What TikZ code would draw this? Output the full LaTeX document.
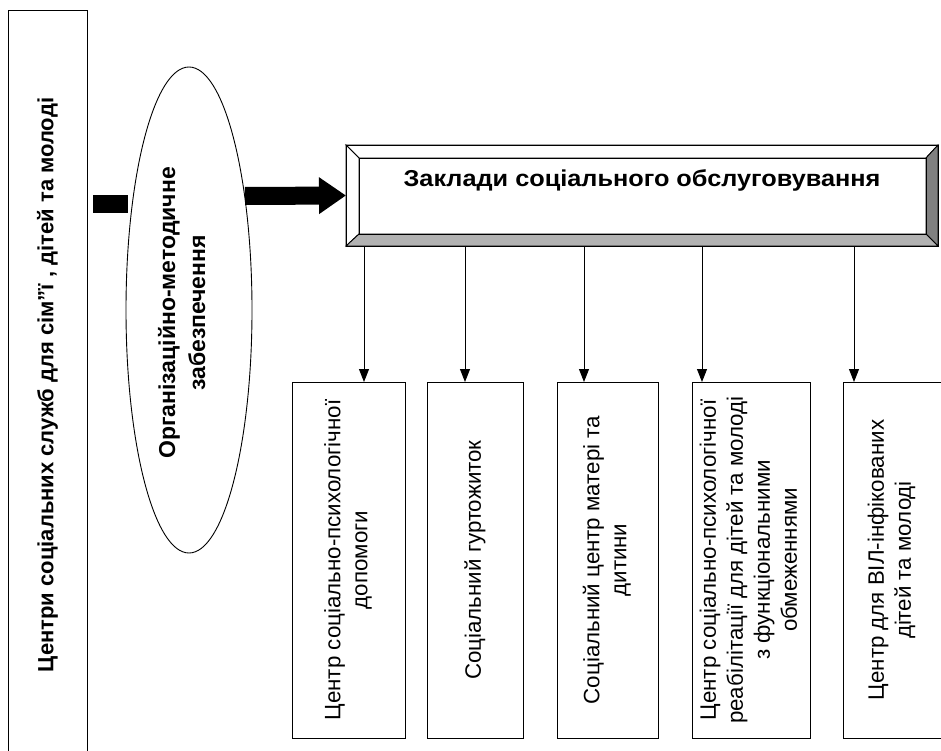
\documentclass[tikz,border=0pt]{standalone}
\usepackage{fontspec}
\usepackage{graphicx}
\setmainfont{Liberation Sans}
\usetikzlibrary{shapes.geometric,arrows.meta}
\begin{document}
\begin{tikzpicture}[x=1pt,y=-1pt]
\tikzset{
  ln/.style={line width=0.9pt,draw=black},
  box/.style={ln,rectangle,inner sep=0pt,outer sep=0pt},
  conn/.style={line width=0.9pt,-{Triangle[length=13pt,width=10pt]}},
  smalltxt/.style={font=\fontsize{22.3}{27}\selectfont},
  bevlight/.style={fill=white,draw=black,line width=0.9pt,line join=miter},
  bevdark/.style={fill=black!50,draw=black,line width=0.9pt},
  bevmid/.style={fill=black!30,draw=black,line width=0.9pt},
}
\useasboundingbox (0,0) rectangle (941,751);
\fill[white] (0,0) rectangle (941,751);

% left box
\node[box,minimum width=79pt,minimum height=750pt,
      font=\bfseries\fontsize{22}{26}\selectfont] (left) at (47.5,385)
  {\rotatebox{90}{Центри соціальних служб для сім”ї , дітей та молоді}};

% black bar
\node[rectangle,fill=black,inner sep=0pt,minimum width=35pt,minimum height=18pt] (bar) at (110.5,204) {};

% ellipse
\node[ellipse,ln,inner sep=0pt,minimum width=126pt,minimum height=486pt] (ell) at (189,310) {};
\node[font=\bfseries\fontsize{23}{30}\selectfont,inner sep=0pt] (elltxt) at (184,313)
  {\rotatebox{90}{\begin{tabular}{@{}c@{}}Організаційно-методичне\\забезпечення\end{tabular}}};

% main bevelled box
\node[box,minimum width=592pt,minimum height=101pt] (main) at (642,195.5) {};
\node[rectangle,inner sep=0pt,outer sep=0pt,minimum width=567pt,minimum height=76pt] (mi) at (642.5,196) {};
\path[bevlight] (main.north west) -- (main.north east) -- (mi.north east) -- (mi.north west) -- cycle;
\path[bevlight] (main.north west) -- (mi.north west) -- (mi.south west) -- (main.south west) -- cycle;
\path[bevdark] (main.north east) -- (main.south east) -- (mi.south east) -- (mi.north east) -- cycle;
\path[bevmid] (main.south west) -- (main.south east) -- (mi.south east) -- (mi.south west) -- cycle;
\draw[ln] (mi.north west) rectangle (mi.south east);
\draw[ln] (main.north west) rectangle (main.south east);
\node[anchor=base,font=\bfseries\fontsize{23}{26}\selectfont,inner sep=0pt] (title) at (642,187)
  {\scalebox{1.1}[1]{Заклади соціального обслуговування}};

% big arrow
\coordinate (as) at (245,196);
\draw[line width=18pt,-{Triangle[length=27pt,width=35pt]}] (as) -- (main.west);

% lower boxes
\node[box,smalltxt,minimum width=113pt,minimum height=356pt] (b1) at (348.5,560)
  {\rotatebox{90}{\begin{tabular}{@{}c@{}}Центр соціально-психологічної\\допомоги\end{tabular}}};
\node[box,smalltxt,minimum width=96pt,minimum height=356pt] (b2) at (475,560)
  {\rotatebox{90}{Соціальний гуртожиток}};
\node[box,smalltxt,minimum width=101pt,minimum height=356pt] (b3) at (607.5,560)
  {\rotatebox{90}{\begin{tabular}{@{}c@{}}Соціальний центр матері та\\дитини\end{tabular}}};
\node[box,smalltxt,minimum width=118pt,minimum height=356pt] (b4) at (751,560)
  {\rotatebox{90}{\begin{tabular}{@{}c@{}}Центр соціально-психологічної\\реабілітації для дітей та молоді\\з функціональними\\обмеженнями\end{tabular}}};
\node[box,smalltxt,minimum width=98pt,minimum height=356pt] (b5) at (892,560)
  {\rotatebox{90}{\begin{tabular}{@{}c@{}}Центр для ВІЛ-інфікованих\\дітей та молоді\end{tabular}}};
\draw[ln] (b5.north east) -- ++(10,0);
\draw[ln] (b5.south east) -- ++(10,0);

% connectors
\coordinate (k1) at (364,0);
\coordinate (k2) at (465,0);
\coordinate (k3) at (584,0);
\coordinate (k4) at (702,0);
\coordinate (k5) at (854,0);
\draw[conn] (k1 |- main.south) -- (k1 |- b1.north);
\draw[conn] (k2 |- main.south) -- (k2 |- b2.north);
\draw[conn] (k3 |- main.south) -- (k3 |- b3.north);
\draw[conn] (k4 |- main.south) -- (k4 |- b4.north);
\draw[conn] (k5 |- main.south) -- (k5 |- b5.north);
\end{tikzpicture}
\end{document}
